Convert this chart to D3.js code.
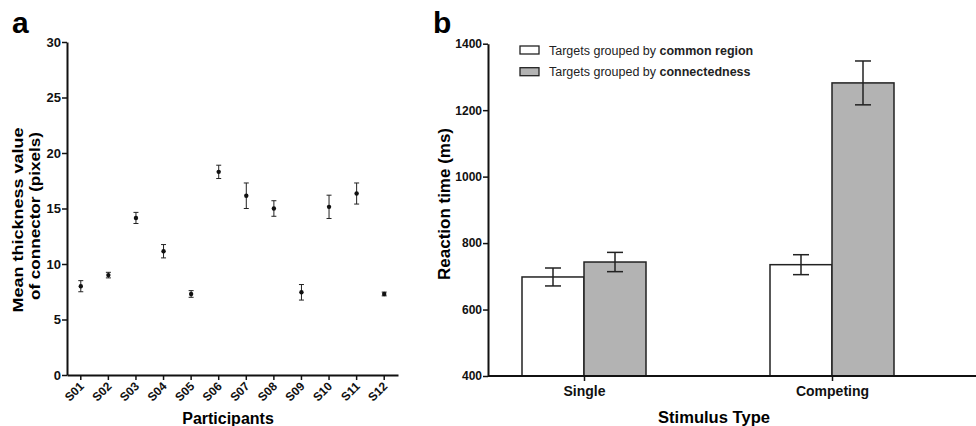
<!DOCTYPE html>
<html>
<head>
<meta charset="utf-8">
<script src="https://cdn.jsdelivr.net/npm/d3@7"></script>
<style>
  body { margin: 0; background: #fff; }
  svg { display: block; font-family: "Liberation Sans", Arial, sans-serif; }
  .axis path, .axis line { stroke: #111; }
  .axis text { font-weight: bold; fill: #111; }
</style>
</head>
<body>
<div id="chart"></div>
<script>
// panel a data
var participants = ["S01","S02","S03","S04","S05","S06","S07","S08","S09","S10","S11","S12"];
var thickness = [8.0, 9.0, 14.15, 11.15, 7.3, 18.3, 16.15, 15.0, 7.45, 15.15, 16.35, 7.3];
var thicknessErr = [0.5, 0.25, 0.5, 0.6, 0.3, 0.6, 1.15, 0.7, 0.7, 1.05, 0.95, 0.17];
var thicknessTicks = [0, 5, 10, 15, 20, 25, 30];

// panel b data
var stimulusTypes = ["Single", "Competing"];
var groups = ["common region", "connectedness"];
var groupColors = ["#ffffff", "#b3b3b3"];
var rtCommon = [698, 735];
var rtCommonErr = [27, 30];
var rtConnected = [743, 1282];
var rtConnectedErr = [29, 66];
var rtTicks = [400, 600, 800, 1000, 1200, 1400];

var W = 976, H = 426;
var svg = d3.select("#chart").append("svg")
  .attr("width", W)
  .attr("height", H);

// ---------- panel a ----------
var ax0 = 67, ax1 = 398, ay0 = 375, ay1 = 42;

var xA = d3.scaleBand()
  .domain(participants)
  .range([ax0, ax1])
  .padding(0);

var yA = d3.scaleLinear()
  .domain([0, 30])
  .range([ay0, ay1]);

svg.append("g")
  .attr("class", "axis")
  .attr("transform", "translate(" + ax0 + ",0)")
  .call(d3.axisLeft(yA).tickValues(thicknessTicks).tickSize(5).tickSizeOuter(0))
  .call(function(g){
    g.select(".domain").attr("stroke-width", 2);
    g.selectAll(".tick line").attr("stroke-width", 1.5);
    g.selectAll("text").attr("font-size", 13).attr("x", -6);
  });

svg.append("g")
  .attr("class", "axis")
  .attr("transform", "translate(0," + ay0 + ")")
  .call(d3.axisBottom(xA).tickSize(5).tickSizeOuter(0))
  .call(function(g){
    g.select(".domain").attr("stroke-width", 2);
    g.selectAll(".tick line").attr("stroke-width", 1.5);
    g.selectAll(".tick text").remove();
  });

// slanted participant labels
svg.append("g")
  .selectAll("text")
  .data(participants)
  .enter()
  .append("text")
  .attr("transform", function(d){
    return "translate(" + (xA(d) + xA.bandwidth() / 2 + 4) + "," + (ay0 + 12) + ") rotate(-45)";
  })
  .attr("text-anchor", "end")
  .attr("font-size", 12)
  .attr("font-weight", "bold")
  .attr("fill", "#111")
  .text(function(d){ return d; });

var ptA = svg.append("g");
participants.forEach(function(p, i){
  var cx = xA(p) + xA.bandwidth() / 2;
  var lo = yA(thickness[i] - thicknessErr[i]);
  var hi = yA(thickness[i] + thicknessErr[i]);
  ptA.append("line").attr("x1", cx).attr("x2", cx).attr("y1", lo).attr("y2", hi)
    .attr("stroke", "#222").attr("stroke-width", 1);
  ptA.append("line").attr("x1", cx - 2.5).attr("x2", cx + 2.5).attr("y1", lo).attr("y2", lo)
    .attr("stroke", "#222").attr("stroke-width", 1);
  ptA.append("line").attr("x1", cx - 2.5).attr("x2", cx + 2.5).attr("y1", hi).attr("y2", hi)
    .attr("stroke", "#222").attr("stroke-width", 1);
  ptA.append("circle").attr("cx", cx).attr("cy", yA(thickness[i])).attr("r", 2.2)
    .attr("fill", "#111");
});

svg.append("text")
  .attr("x", 12).attr("y", 33)
  .attr("font-size", 30).attr("font-weight", "bold")
  .text("a");

svg.append("text")
  .attr("transform", "translate(23,220) rotate(-90)")
  .attr("text-anchor", "middle")
  .attr("font-size", 15).attr("font-weight", "bold")
  .attr("textLength", 185).attr("lengthAdjust", "spacingAndGlyphs")
  .text("Mean thickness value");
svg.append("text")
  .attr("transform", "translate(40,216) rotate(-90)")
  .attr("text-anchor", "middle")
  .attr("font-size", 15).attr("font-weight", "bold")
  .attr("textLength", 168).attr("lengthAdjust", "spacingAndGlyphs")
  .text("of connector (pixels)");

svg.append("text")
  .attr("x", 228).attr("y", 424)
  .attr("text-anchor", "middle")
  .attr("font-size", 16).attr("font-weight", "bold")
  .text("Participants");

// ---------- panel b ----------
var bx0 = 488, bx1 = 976, by0 = 376, by1 = 43.7;
var barW = 62;

var xB = d3.scalePoint()
  .domain(stimulusTypes)
  .range([584, 832]);

var yB = d3.scaleLinear()
  .domain([400, 1400])
  .range([by0, by1]);

var bars = svg.append("g");
var series = [
  { vals: rtCommon, errs: rtCommonErr, color: groupColors[0], off: -1 },
  { vals: rtConnected, errs: rtConnectedErr, color: groupColors[1], off: 0 }
];
series.forEach(function(s){
  stimulusTypes.forEach(function(c, i){
    var x = xB(c) + s.off * barW;
    bars.append("rect")
      .attr("x", x).attr("y", yB(s.vals[i]))
      .attr("width", barW).attr("height", yB(400) - yB(s.vals[i]))
      .attr("fill", s.color).attr("stroke", "#222").attr("stroke-width", 1.5);
  });
});
series.forEach(function(s){
  stimulusTypes.forEach(function(c, i){
    var cx = xB(c) + s.off * barW + barW / 2;
    var lo = yB(s.vals[i] - s.errs[i]);
    var hi = yB(s.vals[i] + s.errs[i]);
    bars.append("line").attr("x1", cx).attr("x2", cx).attr("y1", lo).attr("y2", hi)
      .attr("stroke", "#222").attr("stroke-width", 1.5);
    [lo, hi].forEach(function(yy){
      bars.append("line").attr("x1", cx - 8).attr("x2", cx + 8).attr("y1", yy).attr("y2", yy)
        .attr("stroke", "#222").attr("stroke-width", 1.5);
    });
  });
});

svg.append("g")
  .attr("class", "axis")
  .attr("transform", "translate(" + bx0 + ",0)")
  .call(d3.axisLeft(yB).tickValues(rtTicks).tickFormat(d3.format("d")).tickSize(5).tickSizeOuter(0))
  .call(function(g){
    g.select(".domain").attr("stroke-width", 2);
    g.selectAll(".tick line").attr("stroke-width", 1.5);
    g.selectAll("text").attr("font-size", 12).attr("x", -6);
  });

svg.append("line")
  .attr("x1", bx0).attr("x2", bx1).attr("y1", by0).attr("y2", by0)
  .attr("stroke", "#111").attr("stroke-width", 2);

svg.append("g")
  .attr("class", "axis")
  .attr("transform", "translate(0," + by0 + ")")
  .call(d3.axisBottom(xB).tickSize(5))
  .call(function(g){
    g.select(".domain").remove();
    g.selectAll(".tick line").attr("stroke-width", 1.5);
    g.selectAll("text").attr("font-size", 14).attr("dy", "0.85em");
  });

svg.append("text")
  .attr("x", 433).attr("y", 33)
  .attr("font-size", 30).attr("font-weight", "bold")
  .text("b");

svg.append("text")
  .attr("transform", "translate(450,204) rotate(-90)")
  .attr("text-anchor", "middle")
  .attr("font-size", 16).attr("font-weight", "bold")
  .attr("textLength", 152).attr("lengthAdjust", "spacingAndGlyphs")
  .text("Reaction time (ms)");

svg.append("text")
  .attr("x", 714).attr("y", 423)
  .attr("text-anchor", "middle")
  .attr("font-size", 16).attr("font-weight", "bold")
  .attr("textLength", 112).attr("lengthAdjust", "spacingAndGlyphs")
  .text("Stimulus Type");

// legend
var legend = svg.append("g");
groups.forEach(function(gname, i){
  var ly = 46 + i * 21.7;
  legend.append("rect")
    .attr("x", 520).attr("y", ly)
    .attr("width", 19).attr("height", 8)
    .attr("fill", groupColors[i]).attr("stroke", "#222").attr("stroke-width", 1.3);
  var t = legend.append("text")
    .attr("x", 549).attr("y", ly + 8.5)
    .attr("font-size", 12.5).attr("fill", "#222");
  t.append("tspan").text("Targets grouped by ");
  t.append("tspan").attr("font-weight", "bold").text(gname);
});
</script>
</body>
</html>
